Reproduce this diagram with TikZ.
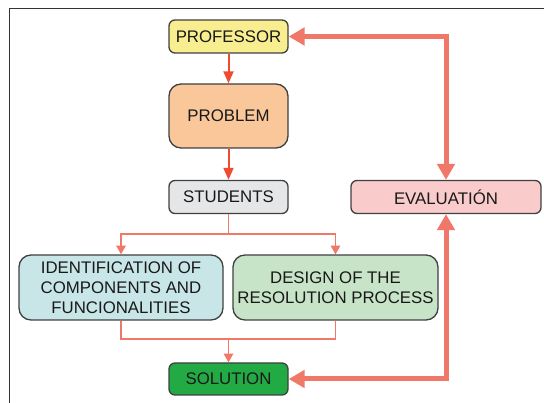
\documentclass[tikz,border=0pt]{standalone}
\usepackage{fontspec}
\setmainfont{Liberation Sans}
\usetikzlibrary{positioning,arrows.meta}

\definecolor{profcol}{HTML}{F8EE90}
\definecolor{probcol}{HTML}{F9C79A}
\definecolor{studcol}{HTML}{E4E6E8}
\definecolor{evalcol}{HTML}{F9CBCB}
\definecolor{identcol}{HTML}{C8E6E8}
\definecolor{designcol}{HTML}{C8E4C8}
\definecolor{solcol}{HTML}{22AA44}
\definecolor{redline}{HTML}{F04A30}
\definecolor{salmon}{HTML}{F07868}
\definecolor{framecol}{HTML}{333333}

\begin{document}
\begin{tikzpicture}[x=0.75pt,y=-0.75pt,
  box/.style={draw=black!75,line width=1pt,rounded corners=4.5pt,align=center,
    inner sep=0pt,font=\fontsize{12.6}{15}\selectfont,text=black!90},
  smallbox/.style={box,minimum width=89.25pt,minimum height=24.75pt},
  bigbox/.style={box,minimum height=48.75pt,rounded corners=9pt},
  stepline/.style={redline,line width=1.5pt,-{Triangle[length=9pt,width=7.5pt]}},
  branch/.style={salmon,line width=1.3pt,-{Triangle[length=6.5pt,width=7pt]}},
  loopline/.style={salmon,line width=3.75pt,
    {Triangle[length=12pt,width=13pt]}-{Triangle[length=12pt,width=13pt]}}]
\useasboundingbox (0,0) rectangle (544,403);
% frame
\draw[framecol,line width=1.1pt] (9.3,403) -- (9.3,8.7) -- (544,8.7);

% boxes
\node[smallbox,fill=profcol] (prof) at (228.5,36.5) {PROFESSOR};
\node[bigbox,fill=probcol,minimum width=89.25pt,minimum height=48pt] (prob) at (228.5,116) {PROBLEM};
\node[smallbox,fill=studcol] (stud) at (228.5,197) {STUDENTS};
\node[smallbox,fill=evalcol,minimum width=142.5pt] (eval) at (446,197) {EVALUATIÓN};
\node[bigbox,fill=identcol,minimum width=153pt] (ident) at (121,287.5)
  {IDENTIFICATION OF\\COMPONENTS AND\\FUNCIONALITIES};
\node[bigbox,fill=designcol,minimum width=153.75pt] (design) at (335.5,287.5)
  {DESIGN OF THE\\RESOLUTION PROCESS};
\node[smallbox,fill=solcol,minimum height=24pt] (sol) at (228.5,379) {SOLUTION};

\coordinate (split) at (228.5,234);
\coordinate (merge) at (228.5,339);

% connectors
\draw[stepline] (prof) -- (prob);
\draw[stepline] (prob) -- (stud);
\draw[branch,-] (stud) -- (split);
\draw[branch] (split) -| (ident);
\draw[branch] (split) -| (design);
\draw[branch,-] (ident) |- (merge);
\draw[branch,-] (design) |- (merge);
\draw[branch] (merge) -- (sol);
\draw[loopline] (prof) -| (eval);
\draw[loopline] (sol) -| (eval);
\end{tikzpicture}
\end{document}
